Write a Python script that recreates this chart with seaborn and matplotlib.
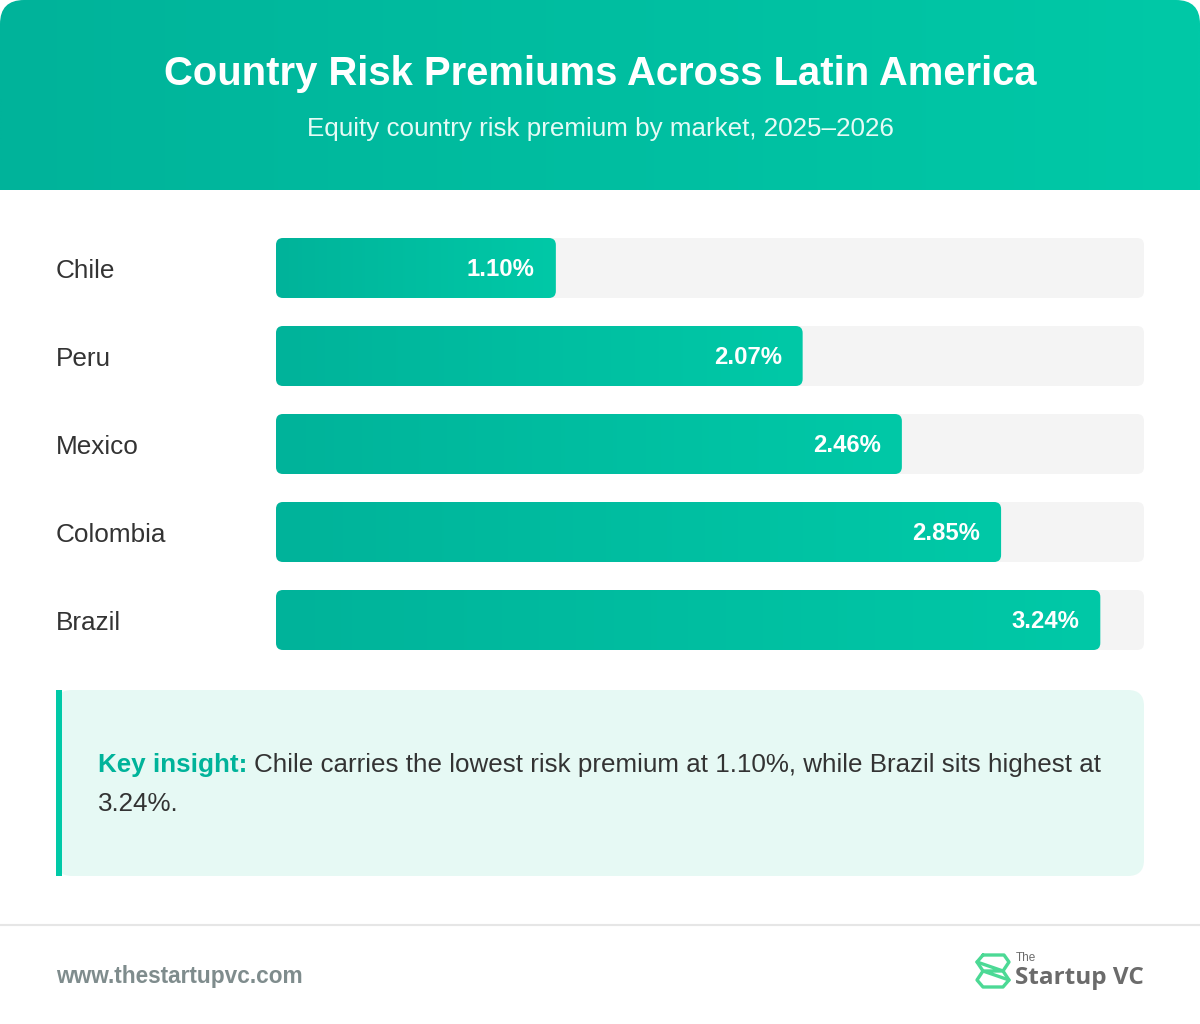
import matplotlib
matplotlib.use("Agg")
import matplotlib.pyplot as plt
from matplotlib.patches import FancyBboxPatch, Rectangle
import seaborn as sns
import numpy as np
import pandas as pd

countries = ["Chile", "Peru", "Mexico", "Colombia", "Brazil"]
premiums = [1.10, 2.07, 2.46, 2.85, 3.24]
value_labels = ["1.10%", "2.07%", "2.46%", "2.85%", "3.24%"]

title = "Country Risk Premiums Across Latin America"
subtitle = "Equity country risk premium by market, 2025\u20132026"
insight_head = "Key insight:"
insight_line1 = "Chile carries the lowest risk premium at 1.10%, while Brazil sits highest at"
insight_line2 = "3.24%."
footer_url = "www.thestartupvc.com"

sns.set_theme(style="white")
plt.rcParams['font.family'] = ['Liberation Sans', 'DejaVu Sans']

W, H = 1200, 1024
fig = plt.figure(figsize=(W / 100, H / 100), dpi=100)
fig.patch.set_facecolor("white")

# background axes in pixel coords (y down)
bg = fig.add_axes([0, 0, 1, 1])
bg.set_xlim(0, W)
bg.set_ylim(H, 0)
bg.axis("off")

c_left = np.array([0x00, 0xb3, 0x9a]) / 255
c_right = np.array([0x00, 0xc9, 0xa7]) / 255


def gradient(ax, x0, x1, y0, y1, clip, z):
    t = np.linspace(0, 1, 256)
    img = c_left[None, :] * (1 - t[:, None]) + c_right[None, :] * t[:, None]
    im = ax.imshow(img[None, :, :], extent=(x0, x1, y1, y0), aspect="auto",
                   zorder=z, interpolation="bilinear")
    im.set_clip_path(clip)
    return im


# header
hdr_clip = FancyBboxPatch((0, 0), W, 240, boxstyle="round,pad=0,rounding_size=24",
                          transform=bg.transData, facecolor="none", edgecolor="none")
bg.add_patch(hdr_clip)
gradient(bg, 0, W, 0, 190, hdr_clip, 1)
bg.set_xlim(0, W)
bg.set_ylim(H, 0)
bg.text(600, 74, title, color="white", fontsize=28.8, fontweight="bold",
        ha="center", va="center", zorder=3)
bg.text(600, 129, subtitle, color="#e6fbf6", fontsize=18.7,
        ha="center", va="center", zorder=3)

# bar axes: x 276..1144 px, rows 224..664 px
bx0, bx1, by0, by1 = 276, 1144, 224, 664
ax = fig.add_axes([bx0 / W, 1 - by1 / H, (bx1 - bx0) / W, (by1 - by0) / H])
ax.set_facecolor("none")
xmax = max(premiums) * 1.053
df = pd.DataFrame({"country": countries, "premium": premiums,
                   "track": [xmax] * len(countries)})
sns.barplot(data=df, y="country", x="track", orient="h", width=60 / 88,
            color="#f4f4f4", ax=ax)
n_track = len(ax.patches)
sns.barplot(data=df, y="country", x="premium", orient="h", width=60 / 88,
            color="#00bfa0", ax=ax)
ax.set_xlim(0, xmax)
ax.set_ylim(len(countries) - 0.5, -0.5)
ax.axis("off")

fig.canvas.draw()
inv = bg.transData.inverted()
patches = list(ax.patches)
for i, p in enumerate(patches):
    bb = p.get_window_extent()
    (px0, py0), (px1, py1) = inv.transform([[bb.x0, bb.y0], [bb.x1, bb.y1]])
    top, bot = min(py0, py1), max(py0, py1)
    p.set_visible(False)
    rp = FancyBboxPatch((px0, top), px1 - px0, bot - top,
                        boxstyle="round,pad=0,rounding_size=7",
                        transform=bg.transData, zorder=2 if i < n_track else 3)
    if i < n_track:
        rp.set_facecolor("#f4f4f4")
        rp.set_edgecolor("none")
        bg.add_patch(rp)
        bg.text(56, (top + bot) / 2 + 2.5, countries[i], fontsize=18.8, color="#333333",
                ha="left", va="center", zorder=4)
    else:
        rp.set_facecolor("none")
        rp.set_edgecolor("none")
        bg.add_patch(rp)
        gradient(bg, px0, px1, top, bot, rp, 3)
        k = i - n_track
        bg.text(px1 - 21, (top + bot) / 2 + 1.5, value_labels[k], fontsize=17.2,
                fontweight="bold", color="white", ha="right", va="center", zorder=5)
bg.set_xlim(0, W)
bg.set_ylim(H, 0)

# insight box
box = FancyBboxPatch((56, 690), 1088, 186, boxstyle="round,pad=0,rounding_size=16",
                     facecolor="#e6f9f4", edgecolor="none", zorder=1)
bg.add_patch(box)
bg.add_patch(Rectangle((56, 690), 6, 186, facecolor="#00c9a7", edgecolor="none", zorder=2))
kt = bg.text(98, 765, insight_head, fontsize=18.7, fontweight="bold", color="#00b39a",
             ha="left", va="center", zorder=3)
fig.canvas.draw()
kb = kt.get_window_extent()
kx = inv.transform([[kb.x1, kb.y0]])[0][0]
bg.text(kx + 7, 765, insight_line1, fontsize=18.7, color="#333333",
        ha="left", va="center", zorder=3)
bg.text(98, 804, insight_line2, fontsize=18.7, color="#333333",
        ha="left", va="center", zorder=3)

# footer
bg.plot([0, W], [925, 925], color="#e6e6e6", lw=1.5, zorder=1)
bg.text(56, 976, footer_url, fontsize=16.3, fontweight="bold", color="#7f8c8d",
        ha="left", va="center")

logo_c = "#4cd995"
kw = dict(color=logo_c, lw=2.4, solid_joinstyle="round", solid_capstyle="round")
bg.plot([983, 1004, 1009, 1003, 1009, 1003, 983, 977, 983, 977, 983],
        [955, 955, 962, 971, 980, 987, 987, 980, 971, 962, 955], **kw)
bg.plot([977, 1003, 983, 1009], [962, 971, 971, 980], **kw)
bg.text(1016, 958, "The", fontsize=8.5, color="#6b6b6b", ha="left", va="center")
bg.text(1015, 978, "Startup VC", fontsize=17.5, fontweight="bold", color="#6b6b6b",
        ha="left", va="center", family=["Open Sans", "DejaVu Sans"])

fig.savefig("out.png", dpi=100, facecolor="white")
